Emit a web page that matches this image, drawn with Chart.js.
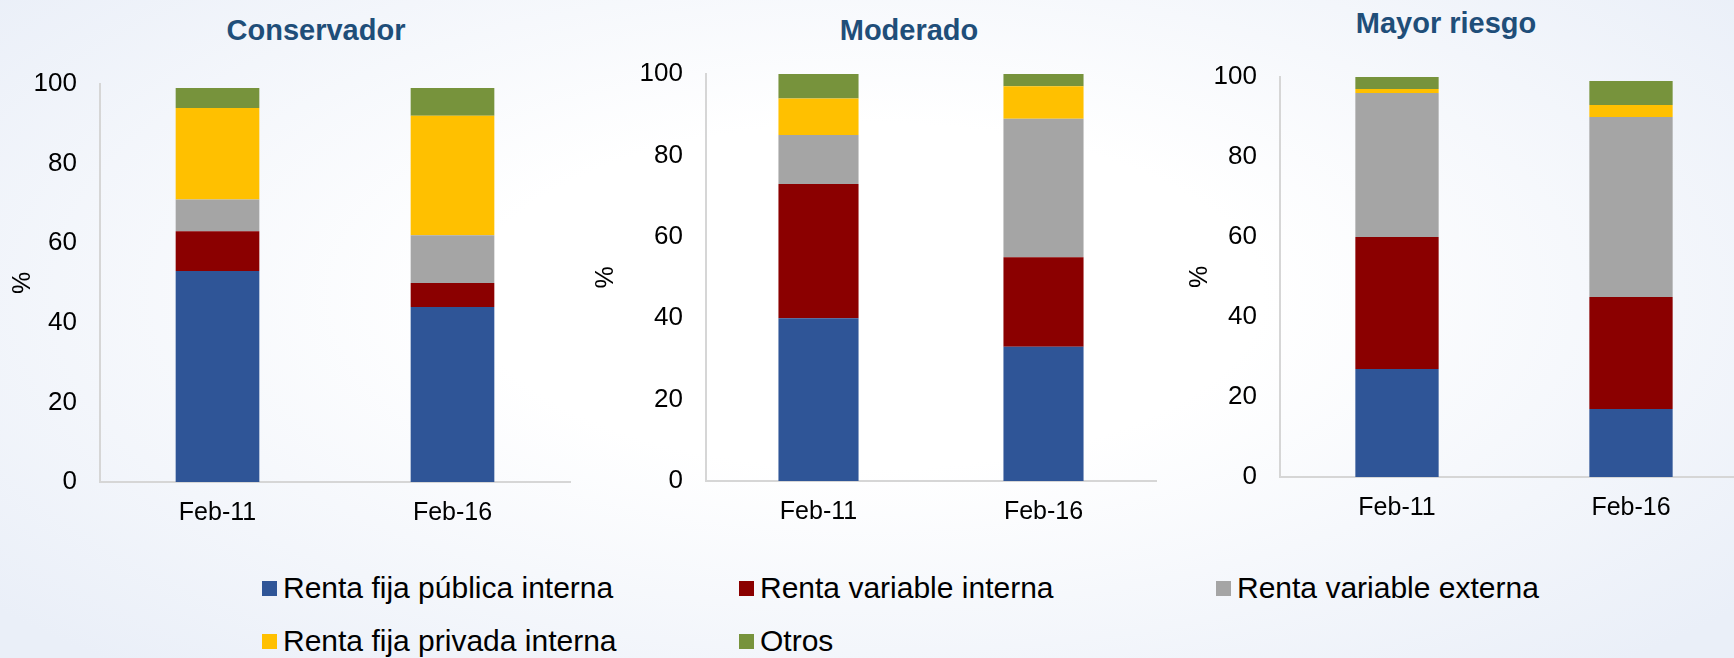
<!DOCTYPE html>
<html>
<head>
<meta charset="utf-8">
<script src="https://cdn.jsdelivr.net/npm/chart.js@4.4.1/dist/chart.umd.min.js"></script>
<style>
  html, body { margin: 0; padding: 0; }
  body {
    width: 1734px; height: 658px; overflow: hidden; position: relative;
    font-family: "Liberation Sans", Arial, sans-serif;
    background: radial-gradient(ellipse 65% 75% at 50% 45%, #ffffff 35%, #eaeff8 100%);
  }
  .panel { position: absolute; }
  .title {
    position: absolute; transform: translate(-50%, -50%);
    font-weight: bold; font-size: 29px; color: #1f4e79; white-space: nowrap;
  }
  .legend-item {
    position: absolute; display: flex; align-items: center;
    font-size: 30px; color: #000; white-space: nowrap; transform: translateY(-50%);
  }
  .legend-item span.box { width: 15px; height: 15px; margin-right: 6px; display: inline-block; }
</style>
</head>
<body>
<div class="title" style="left:316px; top:30px;">Conservador</div>
<div class="title" style="left:909px; top:30px;">Moderado</div>
<div class="title" style="left:1446px; top:23px;">Mayor riesgo</div>

<div class="panel" style="left:0px; top:0px; width:575px; height:532px;"><canvas id="cons"></canvas></div>
<div class="panel" style="left:583px; top:0px; width:578px; height:531px;"><canvas id="mod"></canvas></div>
<div class="panel" style="left:1177px; top:0px; width:576px; height:527px;"><canvas id="may"></canvas></div>

<div id="legend"></div>

<script>
// categories and series
var categories = ["Feb-11", "Feb-16"];
var seriesNames = ["Renta fija pública interna", "Renta variable interna", "Renta variable externa",
                   "Renta fija privada interna", "Otros"];
var seriesColors = ["#2f5597", "#8b0000", "#a5a5a5", "#ffc000", "#77933c"];

// values in %, one row per series (same order as seriesNames)
var conservadorValues = [[53, 44], [10, 6], [8, 12], [23, 30], [5, 7]];
var moderadoValues    = [[40, 33], [33, 22], [12, 34], [9, 8], [6, 3]];
var mayorRiesgoValues = [[27, 17], [33, 28], [36, 45], [1, 3], [3, 6]];

var yTicks = [0, 20, 40, 60, 80, 100];

var xFont = { family: "'Liberation Sans', Arial, sans-serif", size: 25 };
var yFont = { family: "'Liberation Sans', Arial, sans-serif", size: 26 };
var axisLine = { display: true, color: "#d6d6d6", width: 2 };

function makePanel(id, values, padTop, yWidth) {
  var ctx = document.getElementById(id).getContext("2d");
  return new Chart(ctx, {
    type: "bar",
    data: {
      labels: categories,
      datasets: seriesNames.map(function (name, i) {
        return {
          label: name,
          data: values[i],
          backgroundColor: seriesColors[i],
          borderWidth: 0,
          categoryPercentage: 1.0,
          barPercentage: 0.356
        };
      })
    },
    options: {
      responsive: true,
      maintainAspectRatio: false,
      animation: false,
      layout: { padding: { left: 8, right: 5, top: padTop, bottom: 0 } },
      plugins: {
        legend: { display: false },
        tooltip: { enabled: false }
      },
      scales: {
        x: {
          stacked: true,
          grid: { display: false, drawTicks: false },
          border: axisLine,
          ticks: { color: "#000", font: xFont, padding: 16 },
          afterFit: function (scale) { scale.height = 50; }
        },
        y: {
          stacked: true,
          min: 0, max: 100,
          grid: { display: false, drawTicks: false },
          border: axisLine,
          afterBuildTicks: function (scale) {
            scale.ticks = yTicks.map(function (v) { return { value: v }; });
          },
          ticks: { color: "#000", font: yFont, padding: 23 },
          title: { display: true, text: "%", color: "#000", font: xFont, padding: 0 },
          afterFit: function (scale) { scale.width = yWidth; }
        }
      }
    }
  });
}

makePanel("cons", conservadorValues, 84, 92);
makePanel("mod", moderadoValues, 74, 115);
makePanel("may", mayorRiesgoValues, 77, 95);

// shared legend below the three panels
var legendPos = [[262, 588], [739, 588], [1216, 588], [262, 641], [739, 641]];
var legend = document.getElementById("legend");
seriesNames.forEach(function (name, i) {
  var item = document.createElement("div");
  item.className = "legend-item";
  item.style.left = legendPos[i][0] + "px";
  item.style.top = legendPos[i][1] + "px";
  item.innerHTML = '<span class="box" style="background:' + seriesColors[i] + '"></span>' + name;
  legend.appendChild(item);
});
</script>
</body>
</html>
